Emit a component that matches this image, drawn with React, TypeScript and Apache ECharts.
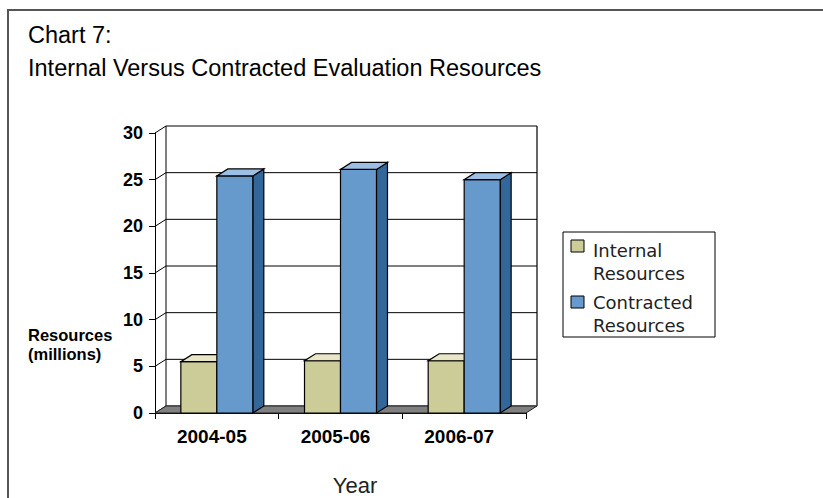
import React, { useEffect, useRef } from "react";
import * as echarts from "echarts";

// Resources (millions) per fiscal year
const categories = ["2004-05", "2005-06", "2006-07"];
const internalResources = [5.5, 5.6, 5.6];
const contractedResources = [25.4, 26.1, 25.0];
const yTicks = [0, 5, 10, 15, 20, 25, 30];
const seriesNames = ["Internal Resources", "Contracted Resources"];
const legendLabels = ["Internal\nResources", "Contracted\nResources"];

// Oblique offset used for the pseudo-3D depth of walls and columns
const DX = 11;
const DY = -7;

const palette = [
  { front: "#CCCC99", top: "#E8E6C6", side: "#9E9C6B" },
  { front: "#6699CC", top: "#9DBFE3", side: "#336699" },
];

const BAR_RATIO = 0.291;

function columnRenderer(slot: number) {
  const colors = palette[slot];
  return (params: any, api: any) => {
    const idx = api.value(0);
    const v = api.value(1);
    const base = api.coord([idx, 0]);
    const topPt = api.coord([idx, v]);
    const band = api.size([1, 0])[0];
    const w = band * BAR_RATIO;
    const x0 = base[0] - w + slot * w;
    const x1 = x0 + w;
    const yT = topPt[1];
    const yB = base[1];
    const edge = { stroke: "#000", lineWidth: 1.2 };
    return {
      type: "group",
      children: [
        {
          type: "polygon",
          shape: { points: [[x1, yT], [x1 + DX, yT + DY], [x1 + DX, yB + DY], [x1, yB]] },
          style: { fill: colors.side, ...edge },
        },
        {
          type: "rect",
          shape: { x: x0, y: yT, width: w, height: yB - yT },
          style: { fill: colors.front, ...edge },
        },
        {
          type: "polygon",
          shape: { points: [[x0, yT], [x1, yT], [x1 + DX, yT + DY], [x0 + DX, yT + DY]] },
          style: { fill: colors.top, ...edge },
        },
      ],
    };
  };
}

function wallRenderer(params: any, api: any) {
  const cs = params.coordSys;
  const left = cs.x;
  const right = cs.x + cs.width;
  const v = api.value(1);
  const y = api.coord([0, v])[1];
  const children: any[] = [
    {
      type: "polyline",
      shape: { points: [[left, y], [left + DX, y + DY], [right + DX, y + DY]] },
      style: { stroke: "#000", lineWidth: 1, fill: "none" },
    },
  ];
  if (params.dataIndex === 0) {
    const yTop = api.coord([0, yTicks[yTicks.length - 1]])[1];
    children.push(
      {
        type: "line",
        shape: { x1: left + DX, y1: yTop + DY, x2: left + DX, y2: y + DY },
        style: { stroke: "#000", lineWidth: 1 },
      },
      {
        type: "line",
        shape: { x1: right + DX, y1: yTop + DY, x2: right + DX, y2: y + DY },
        style: { stroke: "#666", lineWidth: 2 },
      },
      {
        type: "polygon",
        shape: { points: [[left, y], [right, y], [right + DX, y + DY], [left + DX, y + DY]] },
        style: { fill: "#808080", stroke: "#222", lineWidth: 1 },
      }
    );
  }
  return { type: "group", children };
}

export default function App() {
  const ref = useRef<HTMLDivElement>(null);

  useEffect(() => {
    if (!ref.current) return;
    const chart = echarts.init(ref.current, undefined, { renderer: "svg" });
    const legendFont = '18px "DejaVu Sans", sans-serif';
    chart.setOption({
      animation: false,
      backgroundColor: "#fff",
      title: {
        text: "Chart 7:\nInternal Versus Contracted Evaluation Resources",
        left: 23,
        top: 13,
        textStyle: {
          fontFamily: "Liberation Sans, Arial, sans-serif",
          fontSize: 23.5,
          fontWeight: "normal",
          lineHeight: 33,
          color: "#000",
        },
      },
      grid: { left: 155, top: 133, width: 371, height: 280, containLabel: false },
      xAxis: {
        type: "category",
        data: categories,
        axisLine: { show: true, lineStyle: { color: "#000", width: 1 } },
        axisTick: { show: true, length: 6, lineStyle: { color: "#000" } },
        axisLabel: {
          margin: 14,
          fontFamily: "Liberation Sans, Arial, sans-serif",
          fontSize: 19,
          fontWeight: "bold",
          color: "#000",
          padding: [0, 10, 0, 0],
        },
        splitLine: { show: false },
      },
      yAxis: {
        type: "value",
        min: 0,
        max: 30,
        interval: 5,
        axisLine: { show: true, lineStyle: { color: "#000", width: 1 } },
        axisTick: { show: true, length: 6, lineStyle: { color: "#000" } },
        axisLabel: {
          margin: 12,
          fontFamily: "Liberation Sans, Arial, sans-serif",
          fontSize: 18,
          fontWeight: "bold",
          color: "#000",
        },
        splitLine: { show: false },
      },
      series: [
        {
          type: "custom",
          name: "walls",
          renderItem: wallRenderer,
          data: yTicks.map((t) => [0, t]),
          encode: { x: 0, y: 1 },
          clip: false,
          silent: true,
          z: 1,
        },
        {
          type: "custom",
          name: seriesNames[0],
          renderItem: columnRenderer(0),
          data: internalResources.map((v, i) => [i, v]),
          encode: { x: 0, y: 1 },
          itemStyle: { color: palette[0].front },
          clip: false,
          z: 2,
        },
        {
          type: "custom",
          name: seriesNames[1],
          renderItem: columnRenderer(1),
          data: contractedResources.map((v, i) => [i, v]),
          encode: { x: 0, y: 1 },
          itemStyle: { color: palette[1].front },
          clip: false,
          z: 3,
        },
      ],
      graphic: [
        {
          type: "polyline",
          shape: { points: [[8, 498], [8, 10], [823, 10]] },
          style: { stroke: "#555", lineWidth: 2, fill: "none" },
          silent: true,
        },
        {
          type: "text",
          left: 28,
          top: 325,
          style: {
            text: "Resources\n(millions)",
            font: 'bold 16.5px "Liberation Sans", Arial, sans-serif',
            lineHeight: 19,
            fill: "#000",
          },
        },
        {
          type: "text",
          x: 355,
          y: 485,
          style: {
            text: "Year",
            font: '22px "Liberation Sans", Arial, sans-serif',
            fill: "#222",
            align: "center",
            verticalAlign: "middle",
          },
        },
        {
          type: "group",
          x: 563,
          y: 232,
          children: [
            {
              type: "rect",
              shape: { x: 0, y: 0, width: 152, height: 105 },
              style: { fill: "#fff", stroke: "#000", lineWidth: 1 },
            },
            {
              type: "rect",
              shape: { x: 8, y: 8, width: 13, height: 12 },
              style: { fill: palette[0].front, stroke: "#000", lineWidth: 1 },
            },
            {
              type: "text",
              x: 30,
              y: 6.5,
              style: {
                text: legendLabels[0],
                font: legendFont,
                lineHeight: 23,
                fill: "#222",
                verticalAlign: "top",
              },
            },
            {
              type: "rect",
              shape: { x: 8, y: 64, width: 13, height: 12 },
              style: { fill: palette[1].front, stroke: "#000", lineWidth: 1 },
            },
            {
              type: "text",
              x: 30,
              y: 58.5,
              style: {
                text: legendLabels[1],
                font: legendFont,
                lineHeight: 23,
                fill: "#222",
                verticalAlign: "top",
              },
            },
          ],
        },
      ],
    });
    return () => chart.dispose();
  }, []);

  return (
    <div
      ref={ref}
      style={{ position: "fixed", left: 0, top: 0, width: 823, height: 498, background: "#fff" }}
    />
  );
}
